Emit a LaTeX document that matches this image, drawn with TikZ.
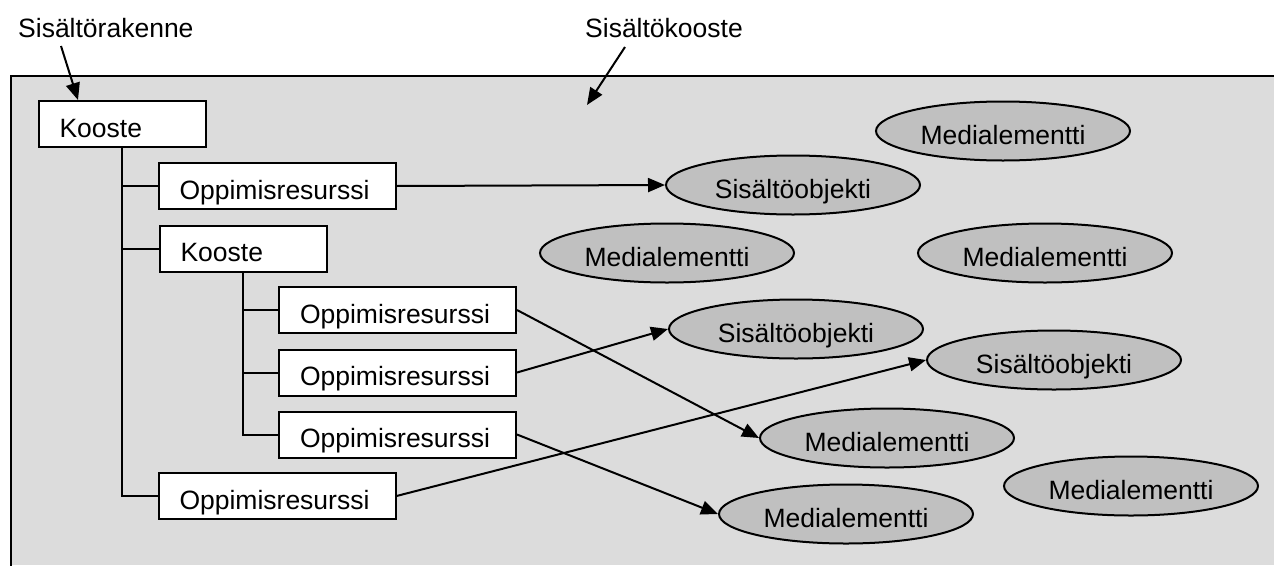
\documentclass[tikz,border=0pt]{standalone}
\usepackage{fontspec}
\setmainfont{Liberation Sans}
\usetikzlibrary{shapes.geometric,arrows.meta}
\definecolor{panelgray}{HTML}{DCDCDC}
\definecolor{ovalgray}{HTML}{C0C0C0}
\tikzset{
  lbl/.style={font=\fontsize{26.5}{30}\selectfont, inner sep=0pt},
  treebox/.style={lbl, draw, line width=2pt, fill=white, rectangle,
    inner xsep=21pt, inner ysep=0pt, minimum height=46pt,
    text height=26pt, text depth=0pt, align=left},
  shortbox/.style={treebox, text width=125pt},
  longbox/.style={treebox, text width=195pt},
  oval/.style={lbl, draw, line width=2pt, fill=ovalgray, ellipse,
    minimum width=254pt, minimum height=59pt,
    text height=26pt, text depth=0pt},
  branch/.style={line width=2pt},
  link/.style={line width=2pt, -{Triangle[length=17pt,width=14pt]}},
}
\begin{document}
\begin{tikzpicture}[x=1pt,y=-1pt]
\useasboundingbox (0,0) rectangle (1274,565);
% content package panel (open to the right and bottom)
\fill[panelgray] (11,76) rectangle (1274,565);
\draw[line width=2pt] (11,566) -- (11,76) -- (1275,76);

% headings
\node[lbl, anchor=base west] (hstruct) at (18,37) {Sisältörakenne};
\node[lbl, anchor=base] (hpkg) at (664,37) {Sisältökooste};

% organisation tree
\node[shortbox] (k1) at (122,124) {Kooste};
\node[longbox]  (r1) at (277,186) {Oppimisresurssi};
\node[shortbox] (k2) at (243,248.5) {Kooste};
\node[longbox]  (r2) at (397.5,310) {Oppimisresurssi};
\node[longbox]  (r3) at (397.5,372.5) {Oppimisresurssi};
\node[longbox]  (r4) at (397.5,434.5) {Oppimisresurssi};
\node[longbox]  (r5) at (277,496) {Oppimisresurssi};

% resources
\node[oval] (s1) at (793,185) {Sisältöobjekti};
\node[oval] (s2) at (796,329) {Sisältöobjekti};
\node[oval] (s3) at (1054,360) {Sisältöobjekti};
\node[oval] (m1) at (1003,131) {Medialementti};
\node[oval] (m2) at (667,253) {Medialementti};
\node[oval] (m3) at (1045,253) {Medialementti};
\node[oval] (m4) at (887,438) {Medialementti};
\node[oval] (m5) at (846,514) {Medialementti};
\node[oval] (m6) at (1131,486) {Medialementti};

% tree branches
\draw[branch] (k1.south) -- (k1.south |- r5.west) -- (r5.west);
\draw[branch] (k1.south |- r1.west) -- (r1.west);
\draw[branch] (k1.south |- k2.west) -- (k2.west);
\draw[branch] (k2.south) -- (k2.south |- r4.west) -- (r4.west);
\draw[branch] (k2.south |- r2.west) -- (r2.west);
\draw[branch] (k2.south |- r3.west) -- (r3.west);

% references from resources to files
\draw[link] (r1.east) -- (s1.west);
\draw[link] (r2.east) -- (m4.west);
\draw[link] (r3.east) -- (s2.west);
\draw[link] (r4.east) -- (m5.west);
\draw[link] (r5.east) -- (s3.west);

% heading pointers
\coordinate (p1) at (61,46);
\coordinate (p1tip) at (78,100);
\coordinate (p2) at (625,47);
\coordinate (p2tip) at (587,105);
\draw[link] (p1) -- (p1tip);
\draw[link] (p2) -- (p2tip);
\end{tikzpicture}
\end{document}
